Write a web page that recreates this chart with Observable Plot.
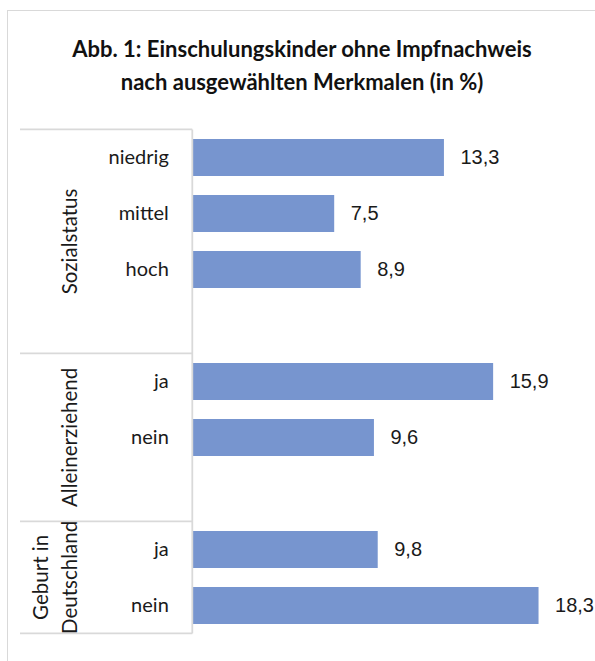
<!DOCTYPE html>
<html>
<head>
<meta charset="utf-8">
<script src="https://cdn.jsdelivr.net/npm/d3@7"></script>
<script src="https://cdn.jsdelivr.net/npm/@observablehq/plot@0.6"></script>
<style>
  html, body { margin: 0; padding: 0; background: #fff; }
  #wrap { position: relative; width: 595px; height: 661px; overflow: hidden; }
  #frame { position: absolute; left: 7px; top: 10px; width: 620px; height: 700px;
           border-left: 1.5px solid #d9d9d9; border-top: 1.5px solid #d9d9d9; box-sizing: border-box; }
  #title { position: absolute; left: 0; top: 32px; width: 604px; text-align: center;
           font-family: Lato, sans-serif; font-weight: 700; font-size: 22px; line-height: 33px; color: #111; }
  #chart { position: absolute; left: 0; top: 0; }
</style>
</head>
<body>
<div id="wrap">
  <div id="frame"></div>
  <div id="chart"></div>
  <div id="title">Abb. 1: Einschulungskinder ohne Impfnachweis<br>nach ausgewählten Merkmalen (in %)</div>
</div>
<script>
// ---- data ----
const groups = ["Sozialstatus", "Alleinerziehend", "Geburt in\nDeutschland"];
const groupSlots = [4, 3, 2]; // rows per group incl. empty spacer row
const categories = ["niedrig", "mittel", "hoch", "ja", "nein", "ja", "nein"];
const categoryGroup = [0, 0, 0, 1, 1, 2, 2];
const values = [13.3, 7.5, 8.9, 15.9, 9.6, 9.8, 18.3];

const rows = categories.map((c, i) => ({
  key: `${categoryGroup[i]}|${c}`, category: c, group: categoryGroup[i], value: values[i]
}));

// y domain: categories plus empty spacer rows to fill each group's slots
const domain = [];
groups.forEach((g, gi) => {
  const members = rows.filter(r => r.group === gi).map(r => r.key);
  domain.push(...members);
  for (let k = members.length; k < groupSlots[gi]; k++) domain.push(`${gi}|__gap${k}`);
});

const paddingInner = 0.343, paddingOuter = 0.1715;
const fmt = v => d3.format(".1f")(v).replace(".", ",");
const lineColor = "#d9d9d9";

// table structure (group borders, labels) drawn from the y scale
function table(index, scales, values_, dims) {
  const y = scales.y;
  const step = y(domain[1]) - y(domain[0]);
  const half = step * paddingInner / 2;
  const x0 = dims.marginLeft;
  const left = 20;
  const g = d3.create("svg:g");
  let slot = 0;
  const bounds = [];
  groups.forEach((name, gi) => {
    const top = y(domain[slot]) - half;
    slot += groupSlots[gi];
    const bottom = y(domain[slot - 1]) + step - half;
    bounds.push([top, bottom]);
  });
  const ys = [bounds[0][0], ...bounds.map(b => b[1])];
  g.selectAll("line.h").data(ys).join("line")
    .attr("x1", left).attr("x2", x0).attr("y1", d => d).attr("y2", d => d)
    .attr("stroke", lineColor).attr("stroke-width", 1.8);
  g.append("line").attr("x1", x0).attr("x2", x0)
    .attr("y1", ys[0]).attr("y2", ys[ys.length - 1])
    .attr("stroke", lineColor).attr("stroke-width", 1.8);
  groups.forEach((name, gi) => {
    const cy = (bounds[gi][0] + bounds[gi][1]) / 2;
    const lines = name.split("\n");
    const lh = 29;
    const baseX = 77 - (lines.length - 1) * lh;
    const t = g.append("text")
      .attr("transform", `translate(${baseX},${cy}) rotate(-90)`)
      .attr("text-anchor", "middle")
      .attr("font-family", "Lato, sans-serif").attr("font-size", 20.5).attr("fill", "#1a1a1a");
    lines.forEach((l, li) => t.append("tspan").attr("x", 0).attr("dy", li === 0 ? 0 : lh).text(l));
  });
  return g.node();
}

const plot = Plot.plot({
  width: 595,
  height: 661,
  marginTop: 126,
  marginBottom: 23.3,
  marginLeft: 192.3,
  marginRight: 24.3,
  style: { background: "transparent" },
  x: { domain: [0, 20], axis: null },
  y: { domain, axis: null, paddingInner, paddingOuter },
  marks: [
    Plot.barX(rows, { x: "value", y: "key", fill: "#7795cf" }),
    Plot.text(rows, { x: 0, y: "key", text: "category", dx: -24, textAnchor: "end",
      fontFamily: "Lato, sans-serif", fontSize: 20, fill: "#1a1a1a" }),
    Plot.text(rows, { x: "value", y: "key", text: d => fmt(d.value), dx: 16, textAnchor: "start",
      fontFamily: "Liberation Sans, Arial, sans-serif", fontSize: 20, fill: "#1a1a1a" }),
    table
  ]
});
document.getElementById("chart").appendChild(plot);
</script>
</body>
</html>
